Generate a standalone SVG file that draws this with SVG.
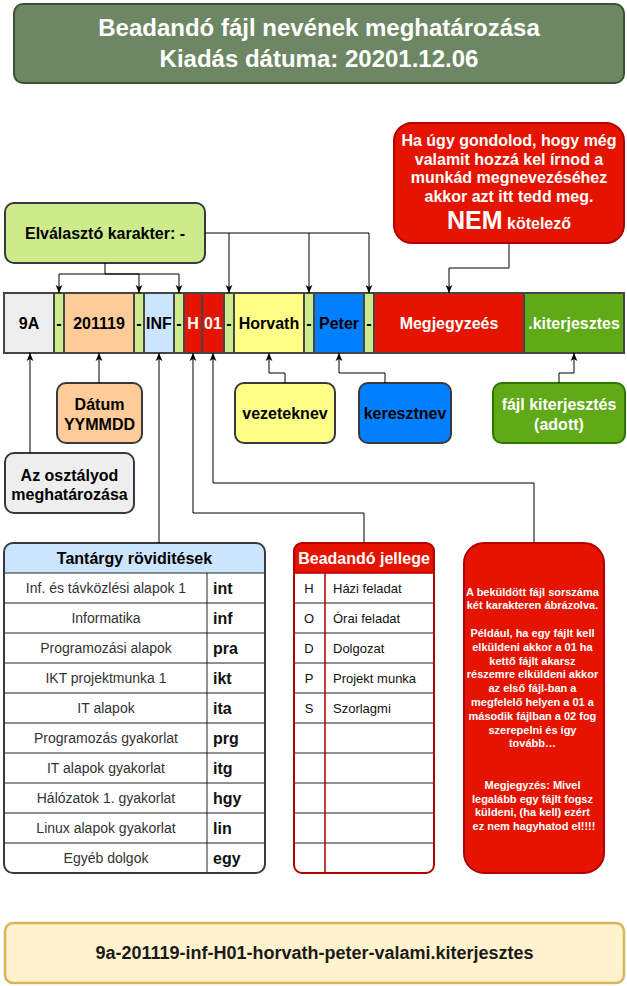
<svg xmlns="http://www.w3.org/2000/svg" width="627" height="986" viewBox="0 0 627 986">
<defs>
<marker id="arr" viewBox="0 0 10 10" refX="10" refY="5" markerWidth="8" markerHeight="8" markerUnits="userSpaceOnUse" orient="auto">
<path d="M0,0.8 L10,5 L0,9.2 L2.5,5 z" fill="#000"/>
</marker>
<style>
text{font-family:"Liberation Sans",Arial,Helvetica,sans-serif;}
.b{font-weight:bold;}
.c{text-anchor:middle;}
.cell{stroke:#454545;stroke-width:2;}
.box{stroke-width:2;}
.w{fill:#fff;}
.k{fill:#000;}
.f16{font-size:16px;}
.row{font-size:14px;fill:#333;text-anchor:middle;}
.ab{font-size:16px;font-weight:bold;fill:#111;}
.bj{font-size:13px;fill:#111;}
.conn path{fill:none;stroke:#000;stroke-width:1;marker-end:url(#arr);}
.tl{stroke:#222;stroke-width:1;}
.rt{font-size:11px;font-weight:bold;fill:#fff;text-anchor:middle;}
</style>
</defs>
<rect width="627" height="986" fill="#fff"/>

<g id="title">
<rect x="14" y="4" width="610" height="79" rx="9" fill="#6d8764" stroke="#3a5431" stroke-width="2"/>
<text x="319" y="36" class="b c w" font-size="24">Beadandó fájl nevének meghatározása</text>
<text x="319" y="67" class="b c w" font-size="24">Kiadás dátuma: 20201.12.06</text>
</g>

<g id="note-top">
<rect x="394" y="123" width="230" height="120" rx="18" fill="#e51400" stroke="#b20000" class="box"/>
<text x="509" y="146" class="b c w f16">Ha úgy gondolod, hogy még</text>
<text x="509" y="164.5" class="b c w f16">valamit hozzá kel írnod a</text>
<text x="509" y="183" class="b c w f16">munkád megnevezéséhez</text>
<text x="509" y="201.5" class="b c w f16">akkor azt itt tedd meg.</text>
<text x="509" y="229" class="b c w"><tspan font-size="25">NEM</tspan><tspan font-size="16"> kötelező</tspan></text>
</g>

<g id="separator">
<rect x="5" y="203" width="200" height="60" rx="9" fill="#cdeb8b" stroke="#36393d" class="box"/>
<text x="105" y="238.6" class="b c k f16">Elválasztó karakter: -</text>
</g>

<g id="filename-bar">
<rect x="4" y="293" width="50" height="60" fill="#eeeeee" class="cell"/>
<rect x="54" y="293" width="10" height="60" fill="#cdeb8b" class="cell"/>
<rect x="64" y="293" width="70" height="60" fill="#ffcc99" class="cell"/>
<rect x="134" y="293" width="10" height="60" fill="#cdeb8b" class="cell"/>
<rect x="144" y="293" width="30" height="60" fill="#cce5ff" class="cell"/>
<rect x="174" y="293" width="10" height="60" fill="#cdeb8b" class="cell"/>
<rect x="184" y="293" width="18" height="60" fill="#e51400" class="cell"/>
<rect x="202" y="293" width="22" height="60" fill="#e51400" class="cell"/>
<rect x="224" y="293" width="10" height="60" fill="#cdeb8b" class="cell"/>
<rect x="234" y="293" width="70" height="60" fill="#ffff88" class="cell"/>
<rect x="304" y="293" width="10" height="60" fill="#cdeb8b" class="cell"/>
<rect x="314" y="293" width="50" height="60" fill="#007fff" class="cell"/>
<rect x="364" y="293" width="10" height="60" fill="#cdeb8b" class="cell"/>
<rect x="374" y="293" width="150" height="60" fill="#e51400" class="cell"/>
<rect x="524" y="293" width="100" height="60" fill="#60a917" class="cell"/>
<text x="29" y="328.7" class="b c k f16">9A</text>
<text x="59" y="328.7" class="b c k f16">-</text>
<text x="99" y="328.7" class="b c k f16">201119</text>
<text x="139" y="328.7" class="b c k f16">-</text>
<text x="159" y="328.7" class="b c k f16">INF</text>
<text x="179" y="328.7" class="b c k f16">-</text>
<text x="193" y="328.7" class="b c w f16">H</text>
<text x="213" y="328.7" class="b c w f16">01</text>
<text x="229" y="328.7" class="b c k f16">-</text>
<text x="269" y="328.7" class="b c k f16">Horvath</text>
<text x="309" y="328.7" class="b c k f16">-</text>
<text x="339" y="328.7" class="b c k f16">Peter</text>
<text x="369" y="328.7" class="b c k f16">-</text>
<text x="449" y="328.7" class="b c w f16">Megjegyzeés</text>
<text x="574" y="328.7" class="b c w f16">.kiterjesztes</text>
</g>

<g id="datum">
<rect x="57" y="383" width="85" height="60" rx="9" fill="#ffcc99" stroke="#36393d" class="box"/>
<text x="99.5" y="409.6" class="b c k f16">Dátum</text>
<text x="99.5" y="429.6" class="b c k f16">YYMMDD</text>
</g>

<g id="osztaly">
<rect x="5" y="453" width="129" height="60" rx="9" fill="#eeeeee" stroke="#36393d" class="box"/>
<text x="69.5" y="480.6" class="b c k f16">Az osztályod</text>
<text x="69.5" y="499.6" class="b c k f16">meghatározása</text>
</g>

<g id="vezeteknev">
<rect x="235" y="383" width="100" height="60" rx="9" fill="#ffff88" stroke="#36393d" class="box"/>
<text x="285" y="418.6" class="b c k f16">vezeteknev</text>
</g>

<g id="keresztnev">
<rect x="359" y="383" width="92" height="60" rx="9" fill="#007fff" stroke="#36393d" class="box"/>
<text x="405" y="418.6" class="b c k f16">keresztnev</text>
</g>

<g id="kiterjesztes">
<rect x="493" y="383" width="132" height="60" rx="9" fill="#60a917" stroke="#2d7600" class="box"/>
<text x="559" y="409.6" class="b c w f16">fájl kiterjesztés</text>
<text x="559" y="429.6" class="b c w f16">(adott)</text>
</g>

<g id="tantargy">
<rect x="4" y="543" width="261" height="330" rx="9" fill="#fff"/>
<path d="M4,573 V552 Q4,543 13,543 H256 Q265,543 265,552 V573 Z" fill="#cce5ff"/>
<g class="tl">
<line x1="4" y1="573" x2="265" y2="573"/>
<line x1="4" y1="603" x2="265" y2="603"/>
<line x1="4" y1="633" x2="265" y2="633"/>
<line x1="4" y1="663" x2="265" y2="663"/>
<line x1="4" y1="693" x2="265" y2="693"/>
<line x1="4" y1="723" x2="265" y2="723"/>
<line x1="4" y1="753" x2="265" y2="753"/>
<line x1="4" y1="783" x2="265" y2="783"/>
<line x1="4" y1="813" x2="265" y2="813"/>
<line x1="4" y1="843" x2="265" y2="843"/>
<line x1="207" y1="573" x2="207" y2="873"/>
</g>
<rect x="4" y="543" width="261" height="330" rx="9" fill="none" stroke="#36393d" stroke-width="2"/>
<text x="134.5" y="563.6" class="b c k f16">Tantárgy röviditések</text>
<text x="106" y="593" class="row">Inf. és távközlési alapok 1</text>
<text x="106" y="623" class="row">Informatika</text>
<text x="106" y="653" class="row">Programozási alapok</text>
<text x="106" y="683" class="row">IKT projektmunka 1</text>
<text x="106" y="713" class="row">IT alapok</text>
<text x="106" y="743" class="row">Programozás gyakorlat</text>
<text x="106" y="773" class="row">IT alapok gyakorlat</text>
<text x="106" y="803" class="row">Hálózatok 1. gyakorlat</text>
<text x="106" y="833" class="row">Linux alapok gyakorlat</text>
<text x="106" y="863" class="row">Egyéb dolgok</text>
<text x="213" y="593.6" class="ab">int</text>
<text x="213" y="623.6" class="ab">inf</text>
<text x="213" y="653.6" class="ab">pra</text>
<text x="213" y="683.6" class="ab">ikt</text>
<text x="213" y="713.6" class="ab">ita</text>
<text x="213" y="743.6" class="ab">prg</text>
<text x="213" y="773.6" class="ab">itg</text>
<text x="213" y="803.6" class="ab">hgy</text>
<text x="213" y="833.6" class="ab">lin</text>
<text x="213" y="863.6" class="ab">egy</text>
</g>

<g id="jellege">
<rect x="294" y="543" width="140" height="330" rx="8" fill="#fff"/>
<path d="M294,573 V551 Q294,543 302,543 H426 Q434,543 434,551 V573 Z" fill="#e51400"/>
<g class="tl">
<line x1="294" y1="603" x2="434" y2="603"/>
<line x1="294" y1="633" x2="434" y2="633"/>
<line x1="294" y1="663" x2="434" y2="663"/>
<line x1="294" y1="693" x2="434" y2="693"/>
<line x1="294" y1="723" x2="434" y2="723"/>
<line x1="294" y1="753" x2="434" y2="753"/>
<line x1="294" y1="783" x2="434" y2="783"/>
<line x1="294" y1="813" x2="434" y2="813"/>
<line x1="294" y1="843" x2="434" y2="843"/>
</g>
<line x1="294" y1="573" x2="434" y2="573" stroke="#b20000" stroke-width="1.5"/>
<line x1="325" y1="573" x2="325" y2="873" stroke="#b20000" stroke-width="1.5"/>
<rect x="294" y="543" width="140" height="330" rx="8" fill="none" stroke="#b20000" stroke-width="2"/>
<text x="364" y="563.6" class="b c w f16">Beadandó jellege</text>
<text x="309" y="592.6" class="bj c">H</text>
<text x="309" y="622.6" class="bj c">O</text>
<text x="309" y="652.6" class="bj c">D</text>
<text x="309" y="682.6" class="bj c">P</text>
<text x="309" y="712.6" class="bj c">S</text>
<text x="333" y="592.6" class="bj">Házi feladat</text>
<text x="333" y="622.6" class="bj">Órai feladat</text>
<text x="333" y="652.6" class="bj">Dolgozat</text>
<text x="333" y="682.6" class="bj">Projekt munka</text>
<text x="333" y="712.6" class="bj">Szorlagmi</text>
</g>

<g id="sorszam">
<rect x="464" y="543" width="140" height="330" rx="20" fill="#e51400" stroke="#b20000" class="box"/>
<text class="rt">
<tspan x="534" y="595.6">A beküldött fájl sorszáma</tspan>
<tspan x="534" y="609.4">két karakteren ábrázolva.</tspan>
<tspan x="534" y="637">Például, ha egy fájlt kell</tspan>
<tspan x="534" y="650.8">elküldeni akkor a 01 ha</tspan>
<tspan x="534" y="664.6">kettő fájlt akarsz</tspan>
<tspan x="534" y="678.4">részemre elküldeni akkor</tspan>
<tspan x="534" y="692.2">az első fájl-ban a</tspan>
<tspan x="534" y="706">megfelelő helyen a 01 a</tspan>
<tspan x="534" y="719.8">második fájlban a 02 fog</tspan>
<tspan x="534" y="733.6">szerepelni és így</tspan>
<tspan x="534" y="747.4">tovább…</tspan>
<tspan x="534" y="788.8">Megjegyzés: Mivel</tspan>
<tspan x="534" y="802.6">legalább egy fájlt fogsz</tspan>
<tspan x="534" y="816.4">küldeni, (ha kell) ezért</tspan>
<tspan x="534" y="830.2">ez nem hagyhatod el!!!!</tspan>
</text>
</g>

<g id="example">
<rect x="5" y="923" width="619" height="60" rx="8" fill="#fff2cc" stroke="#d6b656" stroke-width="2.5"/>
<text x="314.5" y="959" class="b c" font-size="18" fill="#1a1a1a">9a-201119-inf-H01-horvath-peter-valami.kiterjesztes</text>
</g>

<g id="connectors" class="conn">
<path d="M105,263 V274 H59 V293"/>
<path d="M105,274 H139 V293"/>
<path d="M105,274 H179 V293"/>
<path d="M205,233 H229 V293"/>
<path d="M229,233 H309 V293"/>
<path d="M309,233 H369 V293"/>
<path d="M509,243 V268 H449 V293"/>
<path d="M30,453 V353"/>
<path d="M99,383 V353"/>
<path d="M159,543 V353"/>
<path d="M364,543 V513 H193 V353"/>
<path d="M534,543 V483 H213 V353"/>
<path d="M285,383 V373 H269 V353"/>
<path d="M385,383 V373 H339 V353"/>
<path d="M559,383 V373 H574 V353"/>
</g>
</svg>
